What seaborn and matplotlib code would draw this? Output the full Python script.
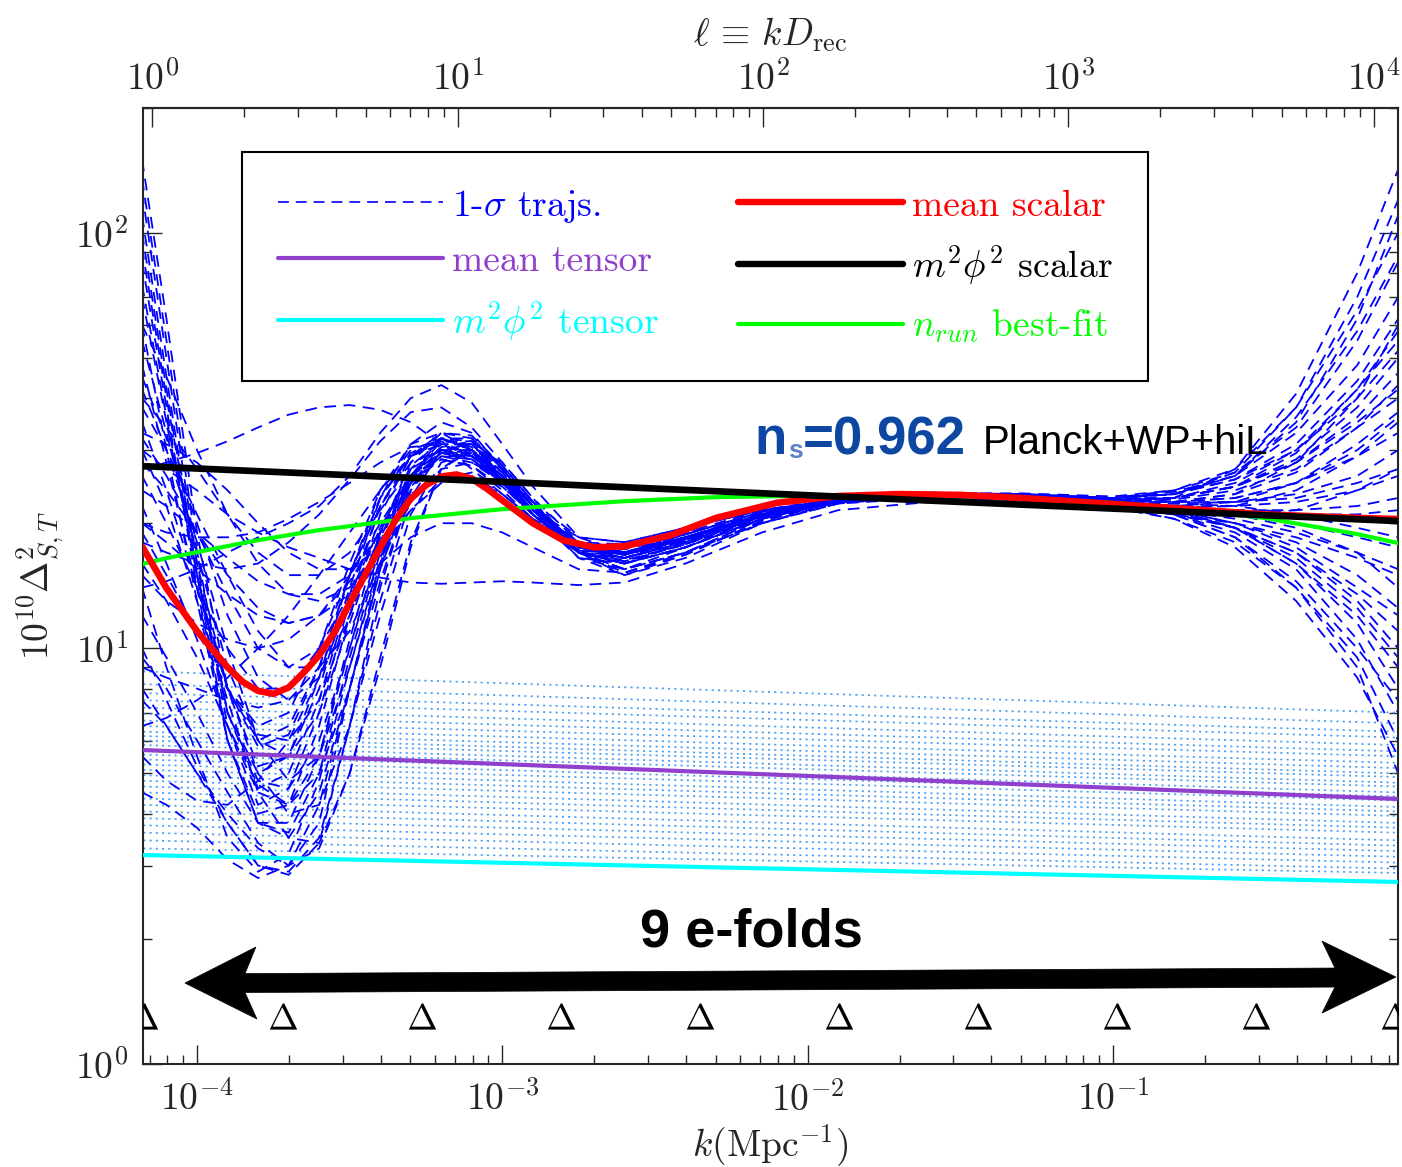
import numpy as np
import pandas as pd
import matplotlib
matplotlib.use("Agg")
import matplotlib.pyplot as plt
import matplotlib.ticker as mticker
from matplotlib.lines import Line2D
from matplotlib.patches import Polygon
from matplotlib import font_manager as fm
import seaborn as sns

# ---------------------------------------------------------------- data
# log10 k (Mpc^-1) nodes shared by the 1-sigma trajectories
log_k_nodes = [-4.18, -4.10, -4.00, -3.90, -3.80, -3.70, -3.60, -3.50, -3.40,
               -3.30, -3.20, -3.10, -3.00, -2.90, -2.75, -2.60, -2.40, -2.15,
               -1.90, -1.60, -1.30, -1.00, -0.80, -0.60, -0.40, -0.20, -0.066]

traj_01 = [150, 62, 19, 8, 5.2, 5.5, 8.5, 15, 24, 31, 33, 30, 25.5, 21.5, 18, 17.5, 19, 21, 22.5, 23, 23, 22.5, 23, 27, 41, 80, 142]
traj_02 = [125, 50, 16, 6.5, 4.2, 4.6, 7, 13, 22, 29, 32, 30, 25.5, 21, 17, 16.5, 18.5, 21, 22.5, 23.2, 23.3, 23, 23.5, 26, 35, 62, 110]
traj_03 = [100, 42, 15, 7, 5, 5.5, 8, 14, 23, 31, 35, 33, 27, 22, 17.5, 17, 19, 21.5, 23, 23.5, 23.2, 22.2, 21, 19, 15.5, 10.5, 7]
traj_04 = [85, 38, 14, 6, 3.8, 3.6, 5, 9.5, 17, 26, 31, 31, 26, 21.5, 16.5, 16, 18, 21, 22.8, 23.4, 23, 22, 21, 19.5, 17, 13, 10]
traj_05 = [70, 35, 15, 8, 6, 6.5, 9, 15, 23, 29, 31, 29, 25, 21.5, 18, 17.8, 19.5, 21.5, 22.8, 23.2, 23, 23, 24, 27, 38, 70, 120]
traj_06 = [60, 30, 13, 6, 4, 4.2, 6.5, 12, 21, 29, 33, 32, 27, 22, 17, 16, 17.5, 20.5, 22.5, 23.5, 23.5, 22.8, 22.5, 23.5, 28, 40, 60]
traj_07 = [48, 28, 14, 8, 6.5, 7, 10, 16, 24, 30, 32, 30, 26, 22.5, 18.5, 18, 19.5, 21.5, 22.8, 23, 22.7, 21.8, 20.5, 18, 14, 9.5, 6]
traj_08 = [42, 30, 18, 10, 6, 4.8, 5.5, 9, 16, 25, 30, 30, 26, 22, 17.5, 17, 18.5, 21, 22.5, 23, 23, 22.8, 23, 25, 30, 42, 55]
traj_09 = [35, 24, 14, 8, 5, 4, 4.2, 6.5, 12, 21, 28, 29.5, 26, 22, 17, 16, 17.5, 20.5, 22.5, 23.2, 23, 22.5, 22, 21.5, 21, 21, 21.5]
traj_10 = [30, 22, 13, 7.5, 4.5, 3.5, 3.4, 5, 9.5, 18, 27, 30, 27, 22.5, 17, 15.5, 17, 20, 22.3, 23.3, 23.2, 22.5, 22, 22.5, 25, 31, 37]
traj_11 = [26, 20, 14, 10, 8, 8, 10, 15, 22, 28, 30, 28.5, 25, 21.5, 18.5, 18, 19.5, 21.5, 22.8, 23.2, 23, 22.5, 21.5, 19.5, 16, 12, 9]
traj_12 = [22, 16, 10.5, 6.5, 4.5, 4.2, 5.5, 10, 18, 27, 32, 31.5, 27, 22, 17, 16, 17.5, 20.5, 22.5, 23.5, 23.5, 23, 23.5, 26, 33, 48, 70]
traj_13 = [19, 15, 11, 8, 6.2, 6, 7.5, 12, 19, 26, 29.5, 28.5, 25, 21, 17.5, 17, 18.5, 21, 22.5, 23, 22.8, 22, 21, 20, 18.5, 16.5, 15]
traj_14 = [16, 13, 9.5, 6.5, 4.7, 4.2, 5, 8, 14.5, 24, 29.5, 29.5, 26, 21.5, 17, 16.2, 17.8, 20.8, 22.6, 23.3, 23.2, 22.8, 23, 24.5, 28, 36, 46]
traj_15 = [12, 9.5, 7, 5, 3.8, 3.5, 4.5, 8, 15.5, 26, 32, 32, 27.5, 22.5, 17, 15.5, 17, 20.5, 22.8, 23.7, 23.5, 22.8, 22.5, 22.5, 23, 25, 27]
traj_16 = [9.5, 8, 6, 4.5, 3.4, 3, 3.3, 5, 9, 17.5, 27, 30.5, 28, 23, 17, 15, 16.5, 20, 22.5, 23.5, 23.3, 22.5, 21.5, 20.5, 19, 17, 15.5]
traj_17 = [7.5, 6.5, 5, 3.8, 3, 2.9, 3.5, 6.5, 13, 23, 30, 31, 27, 22, 16.5, 15, 16.8, 20.3, 22.6, 23.5, 23.4, 23, 23.5, 25.5, 31, 44, 62]
traj_18 = [4.5, 4.2, 3.7, 3.1, 2.8, 3, 4.2, 8, 15.5, 24.5, 29, 28.5, 25, 21, 16.5, 15.5, 17.5, 20.8, 22.7, 23.2, 23, 22.3, 21, 18.5, 14.5, 10, 7.5]
traj_19 = [5.5, 4.8, 4.3, 4.2, 4.8, 6, 8.5, 13, 19.5, 26, 29, 28, 25, 21, 17.5, 17, 18.5, 21, 22.6, 23, 22.8, 22.5, 22.8, 24, 27, 34, 40]
traj_20 = [27, 28, 29.5, 31.5, 34, 36.5, 38, 38.5, 37.5, 35, 31, 27, 23.5, 20.5, 17, 16, 17.5, 20.5, 22.5, 23.3, 23.2, 22.7, 22.5, 23, 25, 29, 33]
traj_21 = [14, 14.5, 15.5, 17, 18.5, 20, 22, 26, 33, 40, 43, 39, 31, 24.5, 18.5, 17, 18.5, 21, 22.8, 23.5, 23.5, 23, 23.5, 26.5, 34, 55, 85]
traj_22 = [18, 17, 16, 15.5, 16, 18, 21, 25.5, 31.5, 37, 38, 34, 28, 23, 18, 17, 18.5, 21, 22.7, 23.3, 23, 22.3, 21.5, 20, 17.5, 14, 12]
traj_23 = [30, 27, 24, 21, 19, 17.5, 16.5, 15.5, 14.8, 14.4, 14.3, 14.4, 14.5, 14.4, 14.2, 14.4, 16, 19, 21.5, 22.5, 22.5, 22, 21, 18.5, 14, 9, 5]
traj_24 = [20, 18, 15.5, 13.5, 12, 11.5, 12, 13.5, 16, 18.5, 20, 20, 19, 17.5, 15.5, 15.2, 17, 20, 22.3, 23, 23, 22.6, 22.5, 23.5, 26.5, 34, 43]
traj_25 = [28, 24, 19, 15, 12.5, 11.5, 12, 14.5, 19, 23.5, 26, 26, 23.5, 20.5, 17.5, 16.8, 18.2, 20.8, 22.6, 23.2, 23, 22.5, 22, 21, 19.5, 17, 14]
traj_26 = [38, 30, 21, 15, 11, 9, 9, 11, 16, 22.5, 27, 28, 25.5, 21.5, 17.5, 16.8, 18.2, 21, 22.7, 23.2, 23, 22.4, 21.8, 21, 20, 18.5, 17.5]
traj_27 = [8, 6.5, 5, 4, 3.3, 3.0, 3.8, 8, 16, 26, 31.5, 31.5, 27.5, 22.5, 17, 15.2, 16.8, 20.2, 22.6, 23.6, 23.6, 23.2, 24, 26.5, 38, 65, 100]
traj_28 = [10, 7.5, 5.2, 3.8, 3.0, 2.85, 3.4, 6.5, 14, 24, 30.5, 31.5, 27.5, 22.5, 17, 15.5, 17, 20.5, 22.7, 23.4, 23.2, 22.5, 21.5, 19.5, 16, 11.5, 8]
traj_29 = [14, 9, 5.5, 3.5, 2.9, 3.2, 4.8, 9, 16.5, 25, 28.5, 27.5, 24.5, 21, 17.2, 16.8, 18.5, 21.2, 22.8, 23.2, 22.9, 22.2, 21.5, 21, 21.5, 24, 27]
traj_30 = [135, 55, 17, 7, 4.6, 5, 7.5, 13.5, 22, 29, 31.5, 29, 25, 21, 17.2, 17, 18.8, 21.3, 22.8, 23.2, 23, 22.3, 21.8, 22, 24, 29, 35]
traj_31 = [110, 45, 15, 6, 3.8, 3.8, 5.5, 10.5, 19, 28, 33, 32.5, 27.5, 22.5, 17.5, 16.5, 18, 21, 22.8, 23.6, 23.5, 23, 23, 24.5, 29.5, 42, 58]
traj_32 = [92, 40, 16, 8, 5.8, 6.2, 9, 15, 23, 29.5, 32, 30, 25.5, 21.5, 17.5, 17, 18.8, 21.3, 22.8, 23.3, 23, 22, 20.5, 17.5, 13, 8.5, 5.5]
traj_33 = [55, 33, 17, 9, 6, 5.5, 7, 11.5, 19, 27.5, 31.5, 31, 26.5, 22, 17.2, 16.5, 18.2, 21, 22.7, 23.4, 23.3, 23, 23.8, 26, 36, 58, 88]
traj_34 = [75, 36, 15, 7, 4.8, 4.6, 6, 10, 17.5, 26, 30.5, 30, 26, 21.5, 17, 16.2, 17.8, 20.8, 22.6, 23.3, 23.1, 22.6, 22.3, 22.5, 23.5, 26, 30]
traj_35 = [32, 26, 19, 13.5, 10, 9, 10, 13.5, 19.5, 26, 28.5, 27.5, 24, 20.5, 17, 16.5, 18, 20.8, 22.6, 23.1, 22.9, 22.2, 21.2, 19.5, 17, 13.5, 11]
traj_36 = [45, 32, 20, 12, 8.5, 7.5, 8.5, 12, 18.5, 26, 30, 29.5, 25.5, 21, 17, 16.3, 17.8, 20.6, 22.5, 23.3, 23.2, 22.8, 23, 24.5, 28.5, 38, 50]
traj_37 = [24, 22, 19, 16.5, 14.5, 13.5, 13.5, 15, 19, 25, 29, 29, 26, 22, 17.8, 17, 18.5, 21, 22.7, 23.2, 23, 22.5, 22, 22, 22.5, 24, 26]
traj_38 = [40, 34, 27, 21, 17, 15, 15, 17, 21.5, 27, 30, 29, 25.5, 21.5, 17.5, 16.8, 18.3, 21, 22.7, 23.2, 23, 22.3, 21.5, 20, 18, 15, 12.5]
traj_39 = [15, 13, 11.5, 10.5, 10, 10.5, 12, 15, 20, 26, 30.5, 30, 26.5, 22, 17.5, 16.5, 18, 20.8, 22.6, 23.4, 23.3, 23, 23.5, 25.5, 30, 40, 52]
traj_40 = [9, 8.5, 8, 7.5, 7.2, 7.5, 9, 12.5, 18.5, 25.5, 29.5, 29, 25.5, 21.5, 17.5, 16.8, 18.3, 21, 22.7, 23.2, 23, 22.6, 22.3, 22, 21, 19.5, 18.5]
traj_41 = [6.5, 6.8, 7.5, 8.5, 10, 12, 15, 19, 24, 29, 32, 30.5, 26.5, 22, 18, 17.3, 18.8, 21.3, 22.8, 23.2, 23, 22.3, 21.3, 19.5, 16.5, 12.5, 9.5]
traj_42 = [60, 45, 30, 21, 16, 13.5, 13, 14, 17, 21.5, 25, 25.5, 23.5, 20.5, 17, 16.5, 18, 20.8, 22.6, 23.1, 22.9, 22.5, 22.5, 23, 25, 30, 36]
traj_43 = [20, 19, 18.5, 18.5, 19, 20.5, 22.5, 25, 28, 30.5, 31, 29, 25.5, 21.5, 17.5, 17, 18.5, 21, 22.6, 23, 22.8, 22.3, 21.8, 21.5, 21.5, 22, 23]
traj_44 = [33, 31, 28, 24, 20, 17, 15.5, 15.5, 17.5, 21.5, 25.5, 26.5, 24.5, 21, 17.5, 16.8, 18.3, 20.9, 22.6, 23.2, 23, 22.7, 23, 24.5, 28, 35, 42]

# mean scalar spectrum and n_run best fit
log_k_mean = [-4.18, -4.10, -4.00, -3.90, -3.85, -3.80, -3.75, -3.70, -3.65, -3.60,
              -3.55, -3.50, -3.45, -3.40, -3.35, -3.30, -3.25, -3.20, -3.15, -3.10,
              -3.05, -3.00, -2.90, -2.80, -2.70, -2.60, -2.45, -2.30, -2.10, -1.90,
              -1.70, -1.50, -1.30, -1.10, -0.90, -0.70, -0.50, -0.35, -0.20, -0.066]
mean_scalar = [17.6, 13.95, 11.0, 9.0, 8.3, 7.9, 7.77, 8.05, 8.75, 9.62,
               10.94, 12.84, 15.0, 17.5, 20.35, 22.9, 24.7, 25.9, 26.2, 25.6,
               24.2, 22.7, 20.0, 18.2, 17.5, 17.6, 18.7, 20.6, 22.4, 23.25,
               23.5, 23.4, 23.0, 22.5, 22.0, 21.5, 21.0, 20.8, 20.6, 20.46]
log_k_run = [-4.18, -4.10, -4.00, -3.90, -3.80, -3.70, -3.60, -3.50, -3.40, -3.30,
             -3.20, -3.10, -3.00, -2.90, -2.80, -2.70, -2.60, -2.45, -2.30, -2.10,
             -1.90, -1.70, -1.50, -1.30, -1.10, -0.90, -0.70, -0.50, -0.35, -0.20,
             -0.066]
nrun_bestfit = [15.95, 16.48, 17.04, 17.62, 18.21, 18.73, 19.25, 19.68, 20.12, 20.57,
                20.92, 21.27, 21.62, 21.86, 22.11, 22.35, 22.60, 22.85, 23.11, 23.23,
                23.36, 23.36, 23.23, 22.98, 22.60, 22.11, 21.38, 20.57, 19.68, 18.83,
                17.92]

# power-law spectra, given at both ends of the k range
log_k_edges = [-4.176, -0.0675]
m2phi2_scalar = [27.44, 20.24]
mean_tensor = [5.69, 4.34]
m2phi2_tensor = [3.18, 2.74]

# tensor spectra of the 1-sigma trajectories
tensor_left = [8.8, 8.2, 7.8, 7.5, 7.2, 6.95, 6.7, 6.5, 6.3, 6.15, 6.0, 5.85, 5.7, 5.55, 5.4,
               5.25, 5.1, 4.95, 4.8, 4.65, 4.5, 4.35, 4.2, 4.05, 3.9, 3.75, 3.6, 3.45, 3.3]
tensor_right = [7.0, 6.6, 6.3, 6.1, 5.85, 5.65, 5.5, 5.3, 5.15, 5.0, 4.9, 4.75, 4.65, 4.5, 4.4,
                4.3, 4.15, 4.05, 3.95, 3.8, 3.7, 3.6, 3.45, 3.35, 3.25, 3.15, 3.05, 2.95, 2.88]

# e-fold markers along k
efold_k = [6.72e-5, 1.917e-4, 5.47e-4, 1.560e-3, 4.45e-3, 1.270e-2, 3.62e-2, 0.1034, 0.2949, 0.841]
efold_level = [1.3] * len(efold_k)

D_REC = 14000.0  # Mpc, converts k to multipole

trajectories = [traj_01, traj_02, traj_03, traj_04, traj_05, traj_06, traj_07, traj_08,
                traj_09, traj_10, traj_11, traj_12, traj_13, traj_14, traj_15, traj_16,
                traj_17, traj_18, traj_19, traj_20, traj_21, traj_22, traj_23, traj_24,
                traj_25, traj_26, traj_27, traj_28, traj_29, traj_30, traj_31, traj_32,
                traj_33, traj_34, traj_35, traj_36, traj_37, traj_38, traj_39, traj_40,
                traj_41, traj_42, traj_43, traj_44]

# ---------------------------------------------------------------- style
sns.set_style("ticks")
plt.rcParams["font.family"] = ["cmr10", "DejaVu Serif"]
plt.rcParams["mathtext.fontset"] = "cm"
plt.rcParams["axes.formatter.use_mathtext"] = True
plt.rcParams["axes.linewidth"] = 1.5

available = {f.name for f in fm.fontManager.ttflist}
if "Liberation Sans Narrow" in available:
    narrow_family, narrow_scale = "Liberation Sans Narrow", 1.0
else:
    narrow_family, narrow_scale = "Liberation Sans", 0.85

BLUE = "#0000ff"
PURPLE = "#9040cc"
CYAN = "#00ffff"
RED = "#ff0000"
GREEN = "#00ff00"
DOT_BLUE = "#4a9ef5"

fig = plt.figure(figsize=(14.02, 11.67), dpi=100)
ax = fig.add_axes([0.1022, 0.0884, 0.8947, 0.8193])
ax.set_xscale("log")
ax.set_yscale("log")

# ---------------------------------------------------------------- tables
k_nodes = 10.0 ** np.array(log_k_nodes)
df_traj = pd.DataFrame(
    [(i, k, v) for i, tr in enumerate(trajectories) for k, v in zip(k_nodes, tr)],
    columns=["traj", "k", "power"])
k_edges = 10.0 ** np.array(log_k_edges)
df_tens = pd.DataFrame(
    [(i, k, v) for i, (a, b) in enumerate(zip(tensor_left, tensor_right))
     for k, v in zip(k_edges, (a, b))],
    columns=["line", "k", "power"])

# tensor trajectories (dotted)
n0 = len(ax.lines)
sns.lineplot(data=df_tens, x="k", y="power", units="line", estimator=None,
             color=DOT_BLUE, lw=1.25, legend=False, sort=False, ax=ax)
for ln in ax.lines[n0:]:
    ln.set_dashes((1.2, 2.4))
    ln.set_zorder(1)

# scalar 1-sigma trajectories (dashed)
n0 = len(ax.lines)
sns.lineplot(data=df_traj, x="k", y="power", units="traj", estimator=None,
             color=BLUE, lw=1.3, legend=False, sort=False, ax=ax)
for ln in ax.lines[n0:]:
    ln.set_dashes((6.5, 4.2))
    ln.set_zorder(2)

sns.lineplot(x=k_edges, y=mean_tensor, color=PURPLE, lw=3.0, ax=ax, zorder=3)
sns.lineplot(x=k_edges, y=m2phi2_tensor, color=CYAN, lw=3.0, ax=ax, zorder=3)
sns.lineplot(x=10.0 ** np.array(log_k_run), y=nrun_bestfit, color=GREEN, lw=3.0,
             sort=False, ax=ax, zorder=4)
sns.lineplot(x=10.0 ** np.array(log_k_mean), y=mean_scalar, color=RED, lw=4.8,
             sort=False, ax=ax, zorder=5)
sns.lineplot(x=k_edges, y=m2phi2_scalar, color="black", lw=4.8, ax=ax, zorder=6)

# e-fold markers
sns.scatterplot(x=efold_k, y=efold_level, marker=r"$\Delta$", s=380, color="black",
                linewidth=0, legend=False, ax=ax, zorder=6)

# ---------------------------------------------------------------- axes
def pow10(v, pos):
    return r"$10^{%d}$" % int(round(np.log10(v)))

ax.set_xticks([1e-4, 1e-3, 1e-2, 1e-1])
ax.set_yticks([1, 10, 100])
for axis in (ax.xaxis, ax.yaxis):
    axis.set_minor_locator(mticker.LogLocator(base=10, subs=np.arange(2, 10)))
    axis.set_major_formatter(mticker.FuncFormatter(pow10))
    axis.set_minor_formatter(mticker.NullFormatter())
ax.set_xlim(10 ** log_k_edges[0], 10 ** log_k_edges[1])
ax.set_ylim(1, 200)

ax.tick_params(which="both", direction="in", top=False, right=True, width=1.0,
               labelsize=27)
ax.tick_params(which="major", length=13.5)
ax.tick_params(which="minor", length=6.8)
ax.tick_params(axis="x", pad=12)
ax.tick_params(axis="y", pad=11)

sec = ax.secondary_xaxis("top", functions=(lambda k: k * D_REC, lambda l: l / D_REC))
sec.set_xticks([1, 10, 100, 1000, 10000])
sec.xaxis.set_minor_locator(mticker.LogLocator(base=10, subs=np.arange(2, 10)))
sec.xaxis.set_major_formatter(mticker.FuncFormatter(pow10))
sec.xaxis.set_minor_formatter(mticker.NullFormatter())
sec.tick_params(which="both", direction="in", width=1.0, labelsize=27)
sec.tick_params(which="major", length=13.5, pad=8)
sec.tick_params(which="minor", length=6.8)
sec.set_xlabel(r"$\ell\,\equiv\,kD_{\rm rec}$", fontsize=27, labelpad=10)

ax.set_xlabel(r"$k(\mathrm{Mpc}^{-1})$", fontsize=27, labelpad=4)
ax.set_ylabel(r"$10^{10}\Delta^2_{S,T}$", fontsize=27, labelpad=6)
for sp in ax.spines.values():
    sp.set_linewidth(1.5)

# ---------------------------------------------------------------- legend
handles = [
    Line2D([], [], color=BLUE, lw=1.2, dashes=(6.5, 4.2)),
    Line2D([], [], color=PURPLE, lw=3.0, solid_capstyle="round"),
    Line2D([], [], color=CYAN, lw=3.0, solid_capstyle="round"),
    Line2D([], [], color=RED, lw=4.6, solid_capstyle="round"),
    Line2D([], [], color="black", lw=4.6, solid_capstyle="round"),
    Line2D([], [], color=GREEN, lw=3.0, solid_capstyle="round"),
]
labels = [r"1-$\sigma$ trajs.", "mean tensor", r"$m^2\phi^2$ tensor",
          "mean scalar", r"$m^2\phi^2$ scalar", r"$n_{run}$ best-fit"]
label_colors = [BLUE, PURPLE, CYAN, RED, "black", GREEN]
leg = ax.legend(handles, labels, ncol=2, loc="upper left",
                bbox_to_anchor=(0.0787, 0.9537), borderaxespad=0, fontsize=27,
                handlelength=4.4, handletextpad=0.25, columnspacing=2.1,
                labelspacing=0.55, borderpad=0.95, frameon=True, fancybox=False)
leg.get_frame().set_edgecolor("black")
leg.get_frame().set_linewidth(1.5)
leg.get_frame().set_alpha(1)
for t, c in zip(leg.get_texts(), label_colors):
    t.set_color(c)
leg.set_zorder(10)

# ---------------------------------------------------------------- annotations
NS_BLUE = "#0d47a1"
ax.text(0.4868, 0.6378, "n", transform=ax.transAxes, fontsize=38, fontweight="bold",
        family="Liberation Sans", color=NS_BLUE, va="baseline", ha="left", zorder=8)
ax.text(0.5140, 0.6336, "s", transform=ax.transAxes, fontsize=19, fontweight="bold",
        family="Liberation Sans", color="#5b82c6", va="baseline", ha="left", zorder=8)
ax.text(0.5259, 0.6378, "=0.962", transform=ax.transAxes, fontsize=38, fontweight="bold",
        family="Liberation Sans", color=NS_BLUE, va="baseline", ha="left", zorder=8)
ax.text(0.6694, 0.6378, "Planck+WP+hiL", transform=ax.transAxes,
        fontsize=34 * narrow_scale, family=narrow_family, color="black",
        va="baseline", ha="left", zorder=8)

ax.text(0.4849, 0.1225, "9 e-folds", transform=ax.transAxes,
        fontsize=46 * narrow_scale, fontweight="bold", family=narrow_family,
        color="black", va="baseline", ha="center", zorder=8)

arrow_outline = [(0.0332, 0.0845), (0.0898, 0.1222), (0.0811, 0.0944),
                 (0.9500, 0.1002), (0.9397, 0.1284), (0.9986, 0.0908),
                 (0.9397, 0.0531), (0.9500, 0.0803), (0.0811, 0.0746),
                 (0.0906, 0.0469)]
ax.add_patch(Polygon(arrow_outline, closed=True, transform=ax.transAxes,
                     facecolor="black", edgecolor="black", lw=0.5, zorder=7,
                     clip_on=False))

fig.savefig("out.png", dpi=100)
